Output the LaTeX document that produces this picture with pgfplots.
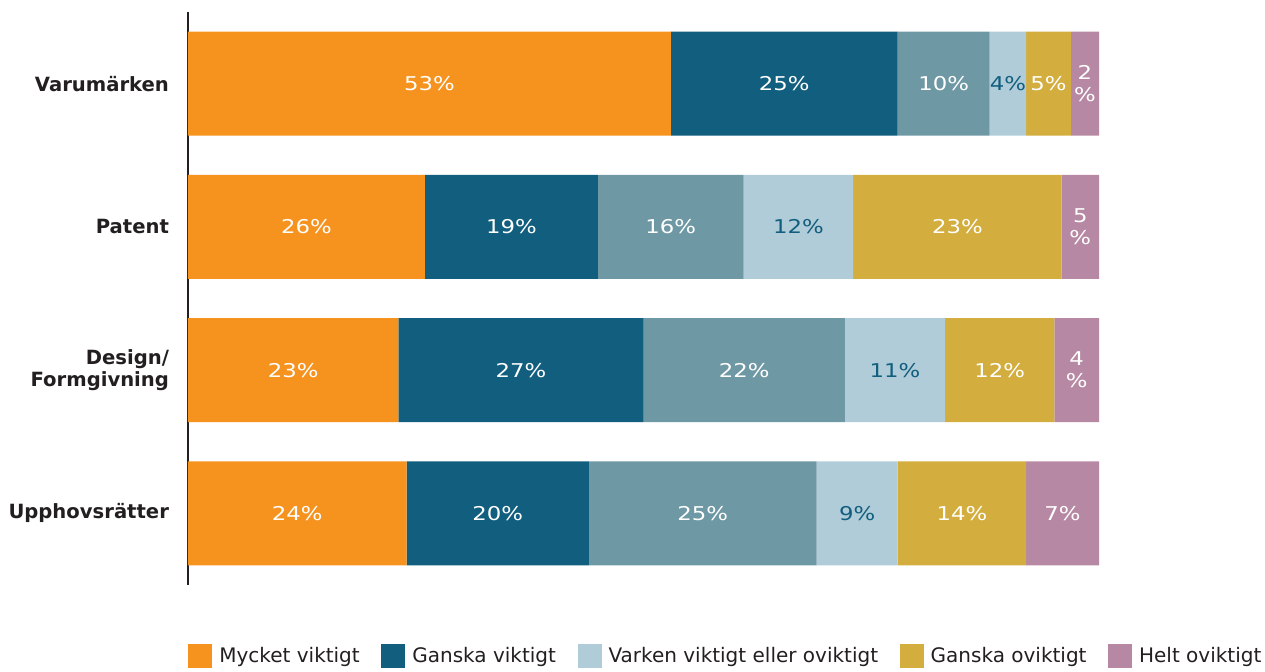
\documentclass[border=0pt]{standalone}
\usepackage{fontspec}
\setmainfont{DejaVu Sans}
\newfontfamily\pctfont[FakeStretch=1.2]{DejaVu Sans}
\usepackage{pgfplots}
\pgfplotsset{compat=1.18}

\definecolor{cOrange}{HTML}{F6931F}
\definecolor{cDark}{HTML}{115E7E}
\definecolor{cTeal}{HTML}{6E98A4}
\definecolor{cLight}{HTML}{B0CCD8}
\definecolor{cGold}{HTML}{D3AD3D}
\definecolor{cPink}{HTML}{B788A3}
\definecolor{cAxis}{HTML}{231F20}

\begin{document}
\begin{tikzpicture}
\begin{axis}[
  scale only axis,
  width=455.5pt, height=286.5pt,
  xbar stacked,
  bar width=0.725,
  xmin=0, xmax=100,
  ymin=-0.5, ymax=3.5,
  y dir=reverse,
  axis x line=none,
  axis y line*=left,
  y axis line style={cAxis, line width=1.2pt},
  ytick={0,1,2,3},
  yticklabels={Varumärken,Patent,Design/\\Formgivning,Upphovsrätter},
  major tick length=0pt,
  yticklabel style={font=\fontsize{9.8}{11.2}\selectfont\bfseries, align=right, text=cAxis, xshift=-6pt},
  point meta=explicit symbolic,
  nodes near coords,
  every node near coord/.style={font=\pctfont\fontsize{9.5}{11}\selectfont, text=white, align=center},
  legend columns=5,
  legend style={at={(0,-0.103)}, anchor=north west, draw=none, fill=none,
    inner sep=0pt, nodes={inner sep=0pt, font=\fontsize{10}{12}\selectfont, text=cAxis},
    /tikz/every odd column/.append style={column sep=3.5pt},
    /tikz/every even column/.append style={column sep=10.8pt}},
  legend image code/.code={\fill[#1] (0pt,-6pt) rectangle (12pt,6pt);},
]
\addplot[fill=cOrange, draw=none] coordinates {(53,0) [53\%] (26,1) [26\%] (23.1,2) [23\%] (24,3) [24\%]};
\addlegendentry{Mycket viktigt}
\addplot[fill=cDark, draw=none] coordinates {(24.9,0) [25\%] (19,1) [19\%] (26.9,2) [27\%] (20,3) [20\%]};
\addlegendentry{Ganska viktigt}
\addplot[fill=cTeal, draw=none, forget plot] coordinates {(10.1,0) [10\%] (16,1) [16\%] (22.1,2) [22\%] (25,3) [25\%]};
\addplot[fill=cLight, draw=none, every node near coord/.append style={text=cDark}] coordinates {(4,0) [4\%] (12,1) [12\%] (11,2) [11\%] (8.9,3) [9\%]};
\addlegendentry{Varken viktigt eller oviktigt}
\addplot[fill=cGold, draw=none] coordinates {(4.9,0) [5\%] (22.9,1) [23\%] (12,2) [12\%] (14.1,3) [14\%]};
\addlegendentry{Ganska oviktigt}
\addplot[fill=cPink, draw=none] coordinates {(3.1,0) [{2\\\%}] (4.1,1) [{5\\\%}] (4.9,2) [{4\\\%}] (8,3) [7\%]};
\addlegendentry{Helt oviktigt}
\end{axis}
\pgfresetboundingbox
\path ([xshift=-94pt, yshift=-43pt]current axis.south west) rectangle ([xshift=538.5pt, yshift=292.5pt]current axis.south west);
\end{tikzpicture}
\end{document}
